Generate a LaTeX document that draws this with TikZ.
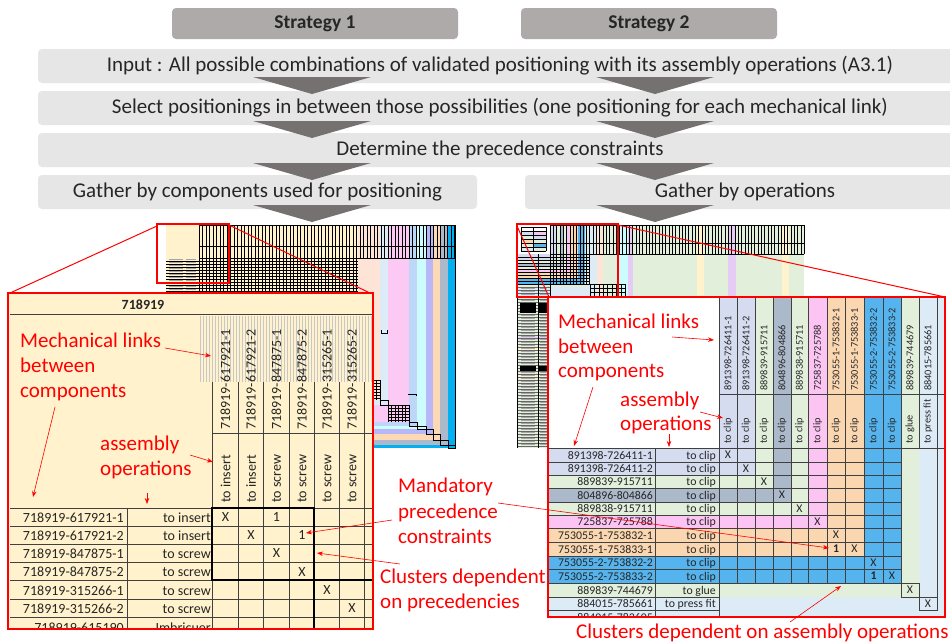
\documentclass[tikz,border=0pt]{standalone}
\usepackage{fontspec}
\setmainfont{Carlito}
\usetikzlibrary{arrows.meta}
\definecolor{stratgray}{HTML}{AEAAAA}
\definecolor{bargray}{HTML}{E7E6E6}
\definecolor{trigray}{HTML}{767171}
\definecolor{tyellow}{HTML}{FFF2CC}
\definecolor{cA}{HTML}{D6DCF0}
\definecolor{cB}{HTML}{E2EFDA}
\definecolor{cC}{HTML}{ACB9CA}
\definecolor{cE}{HTML}{FBC4F2}
\definecolor{cF}{HTML}{FAD7B0}
\definecolor{cG}{HTML}{55B4EE}
\definecolor{cI}{HTML}{DDEBF7}
\definecolor{gridc}{HTML}{404040}
\definecolor{tpeach}{HTML}{FDE4D6}
\definecolor{tpink}{HTML}{FCC9F5}
\definecolor{tlblue}{HTML}{BDD7F8}
\definecolor{tcyan}{HTML}{CCFCFD}
\definecolor{tlav}{HTML}{B8B8F8}
\definecolor{tpeach2}{HTML}{FCD9B4}
\definecolor{tbright}{HTML}{00B0F0}
\definecolor{rlav}{HTML}{E6CCF5}
\definecolor{txt}{HTML}{262626}
\begin{document}
\begin{tikzpicture}[x=1pt,y=-1pt,
  stratbox/.style={fill=stratgray,rounded corners=4pt,minimum height=31pt,inner sep=0pt,text=txt,font=\fontsize{19.5}{19.5}\selectfont\bfseries},
  barbox/.style={fill=bargray,rounded corners=4pt,minimum height=34pt,inner sep=0pt,text=txt,font=\fontsize{21}{21}\selectfont},
  tri/.style={fill=trigray},
  ann/.style={text=red,font=\fontsize{21}{21}\selectfont,inner sep=0pt,anchor=base west},
  annarr/.style={draw=red,line width=0.6pt,-{Stealth[length=6pt,width=4.5pt]}},
  zoomline/.style={draw=red,line width=1pt},
  zoombox/.style={draw=red,line width=2.2pt},
  gl/.style={draw=gridc,line width=0.5pt},
  tl/.style={draw=black,line width=0.35pt},
  blur/.style={draw=black!35,line width=1pt},
  ltxt/.style={inner sep=0pt,text=txt,font=\fontsize{14}{14}\selectfont},
  lvtxt/.style={inner sep=0pt,text=txt,font=\fontsize{14}{14}\selectfont,rotate=90,anchor=west},
  rtxt/.style={inner sep=0pt,text=txt,font=\fontsize{11.8}{12}\selectfont},
  rvtxt/.style={inner sep=0pt,text=txt,font=\fontsize{10.3}{10.3}\selectfont,rotate=90,anchor=west},
]
\useasboundingbox (0,0) rectangle (950,643);
\fill[white] (0,0) rectangle (950,643);

% ---------------- top flow ----------------
\node[stratbox,minimum width=286pt] (s1) at (315,23.5) {Strategy 1};
\node[stratbox,minimum width=256pt] (s2) at (649,23.5) {Strategy 2};
\node[barbox,minimum width=924pt] (b1) at (500,66) {Input : All possible combinations of validated positioning with its assembly operations (A3.1)};
\node[barbox,minimum width=924pt] (b2) at (500,108) {Select positionings in between those possibilities (one positioning for each mechanical link)};
\node[barbox,minimum width=924pt] (b3) at (500,150) {Determine the precedence constraints};
\node[barbox,minimum width=439pt] (b4) at (257.5,192) {Gather by components used for positioning};
\node[barbox,minimum width=440pt] (b5) at (745,192) {Gather by operations};
\foreach \t/\b in {77/94,121/138,163/180,205/222}{
  \fill[tri] (253,\t) -- (371,\t) -- (312,\b) -- cycle;
  \fill[tri] (596,\t) -- (714,\t) -- (655,\b) -- cycle;
}

% ---------------- left thumbnail ----------------
\fill[tyellow] (166,225) rectangle (358,380);
\foreach \xa/\xb/\ya/\yb/\cc in {358/380/380/400/tpeach, 380/388/400/405/cI, 388/409/405/422/tpink, 409/417/422/426/tlblue, 417/426/426/429/tcyan, 426/433/429/434/tlav, 433/440/434/440/tpeach2, 440/448/440/445/cC, 448/455/445/448/tbright}{
  \fill[\cc] (\xa,225) rectangle (\xb,\yb);
  \fill[\cc] (166,\ya) rectangle (\xb,\yb);
}
\foreach \x in {199,202.5,...,455} \draw[tl] (\x,225) -- (\x,258);
\foreach \y in {225,246,258} \draw[draw=black,line width=0.6pt] (199,\y) -- (455,\y);
\draw[draw=black,line width=0.6pt] (455,225) -- (455,448);
\foreach \y in {261,264,...,297} \draw[tl] (166,\y) -- (358,\y);
\foreach \x in {199,202.5,...,358} \draw[tl] (\x,258) -- (\x,297);
\foreach \y in {259.5,262.5,...,296} {\draw[blur] (169,\y) -- (183,\y); \draw[blur] (186,\y) -- (196,\y);}
\foreach \y in {380,383,...,400} \draw[tl] (373,\y) -- (380,\y);
\foreach \x in {373,376.5,380} \draw[tl] (\x,380) -- (\x,400);
\draw[tl] (380,400) rectangle (388,405);
\foreach \y in {405,408,...,422} \draw[tl] (388,\y) -- (409,\y);
\foreach \x in {388,391.5,...,409} \draw[tl] (\x,405) -- (\x,422);
\foreach \xa/\ya/\xb/\yb in {409/422/417/426,417/426/426/429,426/429/433/434,433/434/440/440,440/440/448/445,448/445/455/448}
  \draw[draw=black,line width=0.6pt] (\xa,\ya) rectangle (\xb,\yb);
\draw[tl] (381,330) -- (381,333) -- (387,333) -- (387,330);
\draw[tl] (408,394) -- (416,394) -- (416,396);

% ---------------- right thumbnail ----------------
\fill[cB] (550,225) rectangle (804,297);
\foreach \xa/\xb/\cc in {597/603/tpeach, 618/628/tcyan, 628/633/rlav, 697/704/tyellow, 728/736/rlav, 782/789/tyellow}
  \fill[\cc] (\xa,225) rectangle (\xb,297);
\fill[cB] (517,283) rectangle (550,448);
\foreach \xa/\xb/\ya/\yb/\cc in {550/556.8/254/260/cA, 556.8/560.3/260/262.8/cB, 560.3/563.7/262.8/265.9/cC, 563.7/566.9/265.9/268.7/cB, 566.9/570.5/268.7/271.6/cE, 570.5/577.6/271.6/277.8/cF, 577.6/584.6/277.8/283.7/cG, 584.6/588/283.7/286.8/cB, 588/591.4/286.8/289.6/cI, 591.4/597/289.6/297/cI}{
  \fill[\cc] (\xa,225) rectangle (\xb,\yb);
  \fill[\cc] (517,\ya) rectangle (\xb,\yb);
}
\foreach \x in {550,553.3,...,804} \draw[tl] (\x,225) -- (\x,254);
\foreach \y in {225,243,254} \draw[draw=black,line width=0.6pt] (550,\y) -- (804,\y);
\draw[draw=black,line width=0.6pt] (804,225) -- (804,254);
\foreach \y in {257,260,...,284} \draw[tl] (517,\y) -- (590,\y);
\foreach \x in {550,553.3,...,590} \draw[tl] (\x,254) -- (\x,284);
\foreach \y in {284,288,292,296} \draw[tl] (590,\y) -- (625,\y);
\foreach \x in {590,594.4,...,626} \draw[tl] (\x,284) -- (\x,296);
\fill[rlav] (517,337) rectangle (550,340);
\fill[tyellow] (517,347) rectangle (550,350);
\fill[tyellow] (517,375) rectangle (550,378);
\foreach \y in {287,290,...,448} \draw[draw=black!60,line width=0.3pt] (517,\y) -- (550,\y);
\foreach \y in {288.5,291.5,...,446} {\draw[blur] (521,\y) -- (535,\y); \draw[blur] (540,\y) -- (547,\y);}
\foreach \x in {517,538,550} \draw[draw=black,line width=0.6pt] (\x,254) -- (\x,448);
\fill[black] (520,303) rectangle (536,313);
\fill[black] (539,303) rectangle (547,313);
\fill[black] (520,366) rectangle (536,371);
\fill[black] (539,366) rectangle (547,371);
% mini legend table
\fill[white] (519,225) rectangle (549,253);
\foreach \y/\ca/\cb in {229/white/white,233/cA/cE,237/cB/cA,241/cF/cB,245/cB/cG,249/cI/cB}{
  \fill[\ca] (521,\y-2) rectangle (533,\y+2);
  \fill[\cb] (533,\y-2) rectangle (546,\y+2);
}
\foreach \y in {227,231,...,251} \draw[tl] (521,\y) -- (546,\y);
\foreach \x in {521,533,546} \draw[tl] (\x,227) -- (\x,251);

% ---------------- zoom frames ----------------
\coordinate (lzA) at (157,224);
\coordinate (lzB) at (229,283);
\coordinate (lzTL) at (157,226);
\coordinate (lzTR) at (229,225);
\coordinate (lbTL) at (10,293);
\coordinate (lbTR) at (372,294);
\draw[zoombox] (lzA) rectangle (lzB);
\draw[zoomline] (lzTL) -- (lbTL);
\draw[zoomline] (lzTR) -- (lbTR);
\coordinate (rzA) at (517,224);
\coordinate (rzB) at (618,297);
\coordinate (rzTL) at (517,226);
\coordinate (rzTR) at (618,225);
\coordinate (rbTL) at (549,297);
\coordinate (rbTR) at (945,297);
\draw[zoombox] (rzA) rectangle (rzB);
\draw[zoomline] (rzTL) -- (rbTL);
\draw[zoomline] (rzTR) -- (rbTR);

% ---------------- left big table ----------------
\fill[tyellow] (8,293) rectangle (373,629);
\begin{scope}
\clip (8,293) rectangle (373,629);
\foreach \x in {200,203,...,372} \draw[draw=black!22,line width=0.3pt] (\x,316) -- (\x,382);
\draw[gl] (10,314) -- (373,314);
\foreach \x in {212,238,263,289,314,339,364} \draw[gl] (\x,382) -- (\x,629);
\draw[gl] (212,433) -- (373,433);
\draw[gl] (10,508) -- (373,508);
\foreach \y in {526,544,562,580,599,617} \draw[gl] (10,\y) -- (373,\y);
\draw[gl] (127,508) -- (127,629);
\draw[draw=black,line width=1.5pt] (212,508) rectangle (314,580);
\draw[draw=black,line width=1.5pt] (314,580) -- (373,580);
\draw[draw=black,line width=1.5pt] (314,580) -- (314,629);
\node[ltxt,font=\fontsize{14}{14}\selectfont\bfseries] (lhead) at (143,305) {718919};
\foreach \x/\t [count=\i] in {225.5/718919-617921-1,251/718919-617921-2,276.5/718919-847875-1,302/718919-847875-2,327/718919-315265-1,352/718919-315265-2}
  \node[lvtxt] (lc\i) at (\x,430) {\t};
\foreach \x/\t [count=\i] in {225.5/to insert,251/to insert,276.5/to screw,302/to screw,327/to screw,352/to screw}
  \node[lvtxt] (lo\i) at (\x,503) {\t};
\foreach \y/\a/\b [count=\i] in {517/718919-617921-1/to insert,535/718919-617921-2/to insert,553/718919-847875-1/to screw,571/718919-847875-2/to screw,590/718919-315266-1/to screw,608/718919-315266-2/to screw,627.5/718919-615190/Imbricuer}{
  \node[ltxt,anchor=base east] (lr\i) at (124,\y+5) {\a};
  \node[ltxt,anchor=base east] (lq\i) at (211,\y+5) {\b};
}
\foreach \x/\y/\t [count=\i] in {225.5/517/X,276.5/517/1,251/535/X,302/535/1,276.5/553/X,302/571.5/X,327/590/X,352/608/X}
  \node[ltxt] (lx\i) at (\x,\y) {\t};
\end{scope}
\draw[zoombox] (8,293) rectangle (373,629);

% ---------------- right big table ----------------
\begin{scope}
\clip (548,297) rectangle (945,617);
\fill[white] (548,297) rectangle (945,617);
\foreach \xa/\xb/\ya/\yb/\cc in {719/755/448/475/cA, 755/773/475/488/cB, 773/791/488/502/cC, 791/808/502/515/cB, 808/827/515/528/cE, 827/864/528/556/cF, 864/901/556/583/cG, 901/919/583/597/cB, 919/937/597/610/cI, 937/950/610/625/cI}{
  \fill[\cc] (\xa,297) rectangle (\xb,\yb);
  \fill[\cc] (548,\ya) rectangle (\xb,\yb);
}
\foreach \x in {719,737,755,773,791,808,827,845,864,883,901,919,937} \draw[gl] (\x,297) -- (\x,448);
\draw[gl] (719,394) -- (945,394);
\draw[gl] (548,448) -- (945,448);
\foreach \x in {737,755,773,791,808,827,845,864,883,901} \draw[gl] (\x,448) -- (\x,583);
\foreach \y in {462,475,488,502,515,528,542,556,569,583} \draw[gl] (548,\y) -- (901,\y);
\foreach \y in {597,610} \draw[gl] (548,\y) -- (719,\y);
\draw[gl] (655,448) -- (655,617);
\draw[gl] (719,448) -- (719,617);
\draw[gl] (901,583) rectangle (919,597);
\draw[gl] (919,597) rectangle (937,610);
\draw[gl] (937,448) -- (937,597);
\foreach \x/\t [count=\i] in {728/891398-726411-1,746/891398-726411-2,764/889839-915711,782/804896-804866,799.5/889838-915711,817.5/725837-725788,836/753055-1-753832-1,854.5/753055-1-753833-1,873.5/753055-2-753832-2,892/753055-2-753833-2,910/889839-744679,928/884015-785661}
  \node[rvtxt] (rc\i) at (\x,391) {\t};
\foreach \x/\t [count=\i] in {728/to clip,746/to clip,764/to clip,782/to clip,799.5/to clip,817.5/to clip,836/to clip,854.5/to clip,873.5/to clip,892/to clip,910/to glue,928/to press fit}
  \node[rvtxt] (ro\i) at (\x,444) {\t};
\foreach \y/\a/\b [count=\i] in {455/891398-726411-1/to clip,468.5/891398-726411-2/to clip,481.5/889839-915711/to clip,495/804896-804866/to clip,508.5/889838-915711/to clip,521.5/725837-725788/to clip,535/753055-1-753832-1/to clip,549/753055-1-753833-1/to clip,562.5/753055-2-753832-2/to clip,576/753055-2-753833-2/to clip,590/889839-744679/to glue,603.5/884015-785661/to press fit}{
  \node[rtxt,anchor=base east] (rr\i) at (653,\y+4.2) {\a};
  \node[rtxt,anchor=base east] (rq\i) at (716,\y+4.2) {\b};
}
\node[rtxt,anchor=base east] (rr13) at (653,621) {884015-783605};
\foreach \x/\y [count=\i] in {728/455,746/468.5,764/481.5,782/495,799.5/508.5,817.5/521.5,836/535,854.5/549,873.5/562.5,892/576,910/590,928/603.5}
  \node[rtxt] (rx\i) at (\x,\y) {X};
\node[rtxt,font=\fontsize{11.8}{12}\selectfont\bfseries] (rone1) at (836,549) {1};
\node[rtxt,font=\fontsize{11.8}{12}\selectfont\bfseries] (rone2) at (873.5,576) {1};
\end{scope}
\draw[zoombox] (548,297) rectangle (945,617);

% ---------------- annotations ----------------
\node[ann] (lml) at (20,347) {Mechanical links};
\node[ann] (lbw) at (20,372) {between};
\node[ann] (lcp) at (20,397) {components};
\node[ann] (las) at (100,450) {assembly};
\node[ann] (lop) at (100,475) {operations};
\node[ann] (md1) at (398,492) {Mandatory};
\node[ann] (md2) at (398,518) {precedence};
\node[ann] (md3) at (398,543) {constraints};
\node[ann] (lcl1) at (380,583) {Clusters dependent};
\node[ann] (lcl2) at (380,608) {on precedencies};
\node[ann] (rml) at (558,328) {Mechanical links};
\node[ann] (rbw) at (558,353) {between};
\node[ann] (rcp) at (558,377) {components};
\node[ann] (ras) at (620,406) {assembly};
\node[ann] (rop) at (620,430) {operations};
\node[ann] (rcl) at (576,638) {Clusters dependent on assembly operations};

\coordinate (a1s) at (165,348); \coordinate (a1e) at (211,356);
\coordinate (a2s) at (55,407);  \coordinate (a2e) at (33,497);
\coordinate (a3s) at (190,455); \coordinate (a3e) at (213,462);
\coordinate (a4s) at (147,493); \coordinate (a4e) at (147,504);
\coordinate (a5s) at (392,520); \coordinate (a5e) at (306,533);
\coordinate (a6s) at (498,503); \coordinate (a6e) at (829,548);
\coordinate (a7s) at (400,564); \coordinate (a7e) at (317,553);
\coordinate (b1s) at (672,337); \coordinate (b1e) at (714,340);
\coordinate (b2s) at (593,387); \coordinate (b2e) at (574,446);
\coordinate (b3s) at (700,412); \coordinate (b3e) at (723,418);
\coordinate (b4s) at (669,434); \coordinate (b4e) at (669,447);
\coordinate (b5s) at (790,622); \coordinate (b5e) at (841,586);
\foreach \p in {a1,a2,a3,a4,a5,a6,a7,b1,b2,b3,b4,b5}
  \draw[annarr] (\p s) -- (\p e);
\end{tikzpicture}
\end{document}
